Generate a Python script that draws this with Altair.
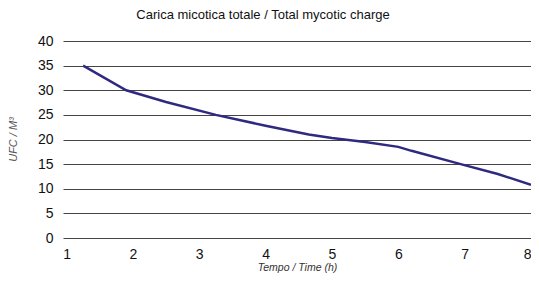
import altair as alt
import pandas as pd

time_h = [1.25, 1.9, 2.5, 3.25, 4.0, 4.65, 5.0, 5.5, 6.0, 6.2, 6.94, 7.5, 8.0]
ufc = [35.0, 30.0, 27.6, 25.0, 22.8, 21.0, 20.3, 19.5, 18.5, 17.7, 15.0, 13.0, 10.8]
x_ticks = [1, 2, 3, 4, 5, 6, 7, 8]
y_ticks = [0, 5, 10, 15, 20, 25, 30, 35, 40]

df = pd.DataFrame({"t": time_h, "v": ufc})

font = "Liberation Sans"

chart = alt.Chart(df).mark_line(color="#2e2a80", strokeWidth=2.5, clip=True).encode(
    x=alt.X("t:Q", scale=alt.Scale(domain=[0.947, 8.0], nice=False, zero=False),
            axis=alt.Axis(values=x_ticks, title="Tempo / Time (h)", grid=False, domain=False,
                          ticks=False, labelPadding=9, labelFontSize=14, labelColor="#111",
                          labelFont=font, titleFont=font, titleFontSize=10.5, titleFontStyle="italic",
                          titleFontWeight="normal", titleColor="#333", titlePadding=1)),
    y=alt.Y("v:Q", scale=alt.Scale(domain=[0, 40], nice=False),
            axis=alt.Axis(values=y_ticks, title="UFC / M³", grid=True, gridColor="#444",
                          gridWidth=1, domain=False, ticks=False, labelPadding=10,
                          labelFontSize=14, labelColor="#111", labelFont=font,
                          titleFont=font, titleFontSize=11, titleFontStyle="italic",
                          titleFontWeight="normal", titleColor="#555",
                          titleX=-50, titleY=98, titleAngle=270, titleAlign="center",
                          titleBaseline="middle")),
).properties(
    width=468,
    height=197,
    title=alt.TitleParams("Carica micotica totale / Total mycotic charge", anchor="middle",
                          dx=-34, fontSize=13, font=font, fontWeight="normal", color="#111",
                          offset=12),
    autosize=alt.AutoSizeParams(type="none"),
    padding={"left": 55, "top": 33, "right": 0, "bottom": 35},
).configure_view(stroke=None)

chart.save("out.html", embed_options={"renderer": "svg", "actions": False})
